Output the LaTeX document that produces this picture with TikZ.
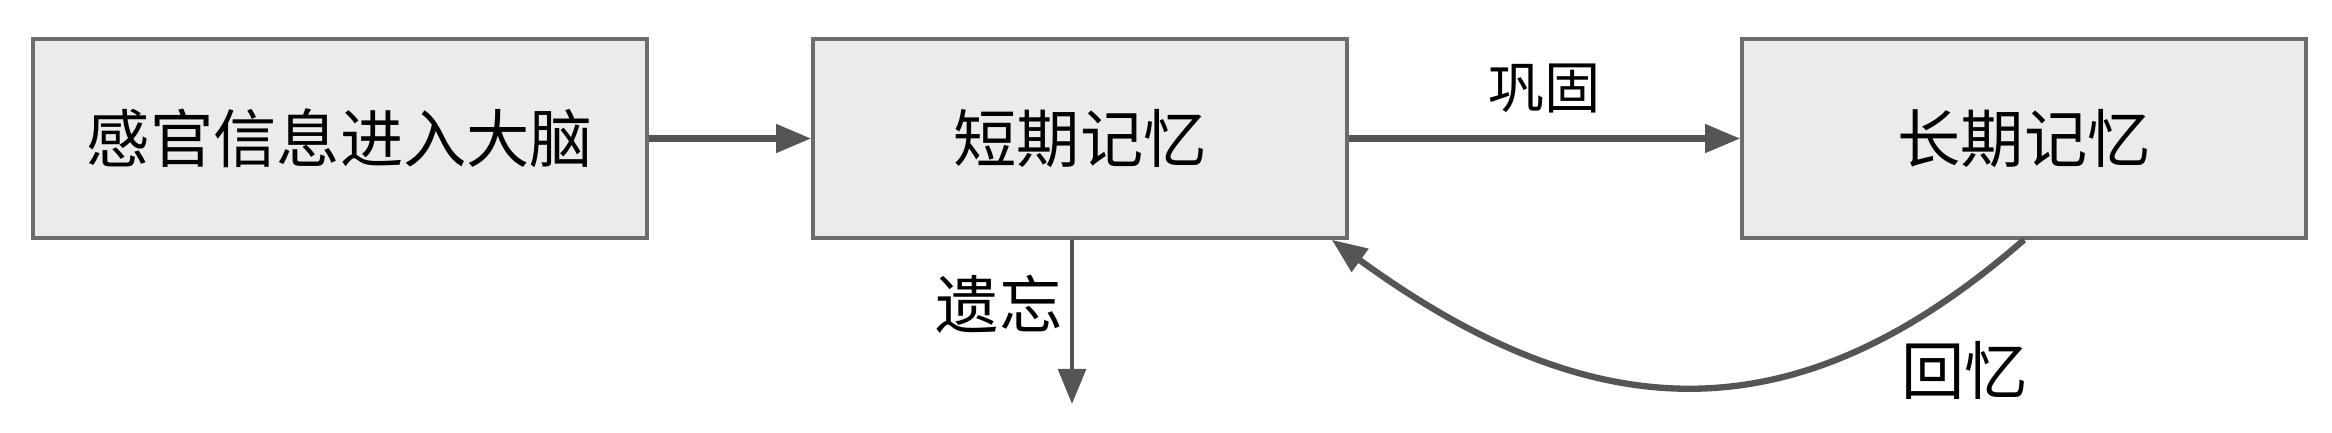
\documentclass[tikz,border=0pt]{standalone}
\usepackage{fontspec}
\setmainfont{Noto Sans CJK SC}
\usetikzlibrary{arrows.meta,positioning}
\definecolor{boxfill}{HTML}{EBEBEB}
\definecolor{boxline}{HTML}{6C6C6C}
\definecolor{arrowgray}{HTML}{555555}
\tikzset{
  memorybox/.style={draw=boxline, line width=1pt, fill=boxfill, inner sep=0pt,
    minimum height=1.99cm, font=\fontsize{18}{20}\selectfont},
  flow/.style={draw=arrowgray, line width=1.8pt, -{Triangle[length=10pt,width=7.8pt]}},
  flowlabel/.style={font=\fontsize{18}{20}\selectfont, inner sep=2pt}
}
\begin{document}
\begin{tikzpicture}
				\useasboundingbox (0,0) rectangle (23.32,4.32);

				% Three memory stages
				\node[memorybox, minimum width=6.14cm] (sense) at (3.40,2.935) {感官信息进入大脑};
				\node[memorybox, minimum width=5.34cm] (short) at (10.80,2.935) {短期记忆};
				\node[memorybox, minimum width=5.64cm] (long) at (20.24,2.935) {长期记忆};

				% Forgetting leaves short term memory downwards
				\coordinate (lost) at (10.72,0.28);

				% Arrows between stages
				\draw[flow] (sense) -- (short);
				\draw[flow] (short) -- (long) node[midway, above=3pt, font=\fontsize{16}{18}\selectfont] {巩固};
				\draw[flow, line width=1.4pt] (short.south -| lost) -- (lost) node[pos=0.39, left=0pt, flowlabel] {遗忘};
				% Recall curves back from long term memory
				\draw[flow] (long.south) .. controls (18.00,-0.03) and (16.00,-0.03) .. ([xshift=-0.17cm]short.south east)
					node[pos=0.27, right=0.45cm, yshift=-0.15cm, flowlabel] {回忆};
			\end{tikzpicture}
\end{document}
